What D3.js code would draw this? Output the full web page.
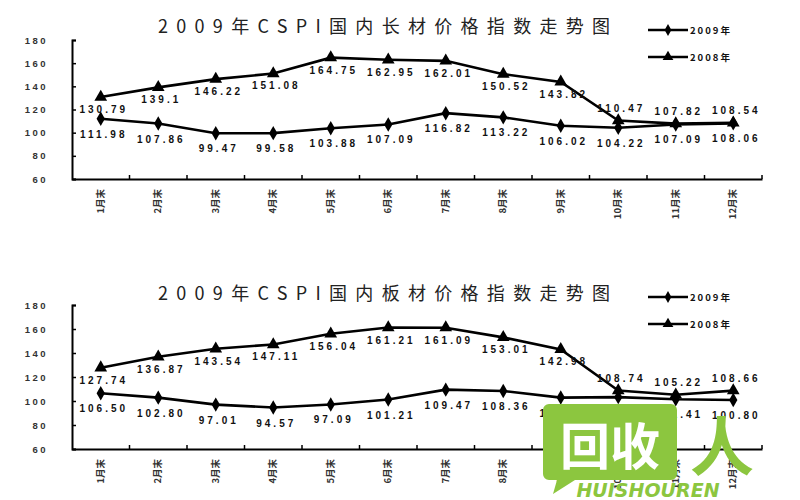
<!DOCTYPE html>
<html><head><meta charset="utf-8">
<script src="https://cdn.jsdelivr.net/npm/d3@7"></script>
<style>body{margin:0;background:#fff}svg{display:block}</style>
</head><body>
<svg id="c" width="800" height="500"></svg>
<script>
const months = ["1月末","2月末","3月末","4月末","5月末","6月末","7月末","8月末","9月末","10月末","11月末","12月末"];
const yTicks = [60, 80, 100, 120, 140, 160, 180];
const seriesNames = ["2009年", "2008年"];
const titleLong = "2009年CSPI国内长材价格指数走势图";
const titlePlate = "2009年CSPI国内板材价格指数走势图";
// values kept as written on the chart (text keeps its trailing digits)
const long2009 = ["111.98", "107.86", "99.47", "99.58", "103.88", "107.09", "116.82", "113.22", "106.02", "104.22", "107.09", "108.06"];
const long2008 = ["130.79", "139.1", "146.22", "151.08", "164.75", "162.95", "162.01", "150.52", "143.82", "110.47", "107.82", "108.54"];
const plate2009 = ["106.50", "102.80", "97.01", "94.57", "97.09", "101.21", "109.47", "108.36", "102.85", "103.22", "101.41", "100.80"];
const plate2008 = ["127.74", "136.87", "143.54", "147.11", "156.04", "161.21", "161.09", "153.01", "142.98", "108.74", "105.22", "108.66"];

const svg = d3.select("#c");
const labFont = "Arial, 'Liberation Sans', sans-serif";
const cjk = "'Noto Sans CJK SC', sans-serif";

function drawChart(top, bottom, title, titleY, s09, s08) {
  const g = svg.append("g");
  const x = d3.scaleBand().domain(months).range([72, 762]);
  const y = d3.scaleLinear().domain([60, 180]).range([bottom, top]);

  g.append("text").attr("x", 158).attr("y", titleY)
    .attr("font-family", cjk).attr("font-size", 18).attr("letter-spacing", 8.3)
    .attr("fill", "#222").text(title);

  // y axis
  const ya = g.append("g").attr("transform", "translate(72,0)")
    .call(d3.axisRight(y).tickValues(yTicks).tickSize(4).tickFormat(""));
  ya.select(".domain").attr("stroke", "#000").attr("stroke-width", 2);
  ya.selectAll(".tick line").attr("stroke", "#000").attr("stroke-width", 1.5);
  g.selectAll(".ylab").data(yTicks).join("text")
    .attr("x", 48).attr("y", d => y(d) + 3.5).attr("text-anchor", "end")
    .attr("font-family", labFont).attr("font-weight", "bold").attr("font-size", 9.5)
    .attr("letter-spacing", 2.5).attr("fill", "#333").text(d => d);

  // x axis
  const xa = g.append("g").attr("transform", `translate(0,${bottom})`)
    .call(d3.axisTop(x).tickSize(0).tickFormat(""));
  xa.select(".domain").attr("stroke", "#000").attr("stroke-width", 2);
  const bounds = months.map(m => x(m)).concat([x.range()[1]]);
  g.selectAll(".xt").data(bounds.slice(1)).join("line")
    .attr("x1", d => d).attr("x2", d => d).attr("y1", bottom).attr("y2", bottom - 4)
    .attr("stroke", "#000").attr("stroke-width", 1.5);
  g.selectAll(".xlab").data(months).join("text")
    .attr("transform", d => `translate(${x(d) + x.bandwidth() / 2 + 3},${bottom + 10}) rotate(-90)`)
    .attr("text-anchor", "end").attr("font-family", cjk).attr("font-size", 9.5)
    .attr("font-weight", "bold").attr("fill", "#333").text(d => d);

  const cx = (d, i) => x(months[i]) + x.bandwidth() / 2;
  const line = d3.line().x(cx).y(d => y(+d));

  [[s08, "tri"], [s09, "dia"]].forEach(([s, mk]) => {
    g.append("path").datum(s).attr("d", line).attr("fill", "none")
      .attr("stroke", "#000").attr("stroke-width", 2.6);
    const sym = mk === "tri" ? d3.symbol().type(d3.symbolTriangle).size(70)
                             : d3.symbol().type(d3.symbolDiamond).size(60);
    g.selectAll(".m" + mk).data(s).join("path")
      .attr("transform", (d, i) => `translate(${cx(d, i)},${y(+d)})`)
      .attr("d", sym).attr("fill", "#000");
    g.selectAll(".l" + mk).data(s).join("text")
      .attr("x", (d, i) => cx(d, i) + 3)
      .attr("y", (d, i) => {
        if (mk === "dia") return y(+d) + 19;
        // when the two lines are close, the 2008 label sits above its marker
        return Math.abs(+d - +s09[i]) < 12 ? y(+d) - 9 : y(+d) + 16;
      })
      .attr("text-anchor", "middle").attr("font-family", labFont)
      .attr("font-weight", "bold").attr("font-size", 10).attr("letter-spacing", 3)
      .attr("fill", "#111").text(d => d);
  });

  // legend
  const lg = [[seriesNames[0], "dia", titleY - 3], [seriesNames[1], "tri", titleY + 24]];
  lg.forEach(([name, mk, ly]) => {
    g.append("line").attr("x1", 648).attr("x2", 688).attr("y1", ly).attr("y2", ly)
      .attr("stroke", "#000").attr("stroke-width", 2.5);
    const sym = mk === "tri" ? d3.symbol().type(d3.symbolTriangle).size(50)
                             : d3.symbol().type(d3.symbolDiamond).size(40);
    g.append("path").attr("transform", `translate(668,${ly})`).attr("d", sym).attr("fill", "#000");
    g.append("text").attr("x", 690).attr("y", ly + 3.5)
      .attr("font-family", cjk).attr("font-weight", "bold").attr("font-size", 9.5)
      .attr("letter-spacing", 2).attr("fill", "#111").text(name);
  });
}

drawChart(40, 179, titleLong, 33, long2009, long2008);
drawChart(305, 449, titlePlate, 300, plate2009, plate2008);

// watermark
const wm = svg.append("g");
wm.append("path").attr("d", "M549,404 h122 a6,6 0 0 1 6,6 v64 a6,6 0 0 1 -6,6 h-96 l-22,14 l4,-14 h-8 a6,6 0 0 1 -6,-6 v-64 a6,6 0 0 1 6,-6 z")
  .attr("fill", "#8cc63f");
wm.append("text").attr("x", 610).attr("y", 465).attr("text-anchor", "middle")
  .attr("font-family", cjk).attr("font-weight", "bold").attr("font-size", 50)
  .attr("fill", "#fff").text("回收");
wm.append("text").attr("x", 722).attr("y", 470).attr("text-anchor", "middle")
  .attr("font-family", cjk).attr("font-weight", "bold").attr("font-size", 64)
  .attr("fill", "#8cc63f").text("人");
wm.append("text").attr("x", 648).attr("y", 497).attr("text-anchor", "middle")
  .attr("font-family", "'DejaVu Sans', sans-serif").attr("font-weight", "bold").attr("font-style", "italic")
  .attr("font-size", 19).attr("fill", "#8cc63f").text("HUISHOUREN");
</script>
</body></html>
